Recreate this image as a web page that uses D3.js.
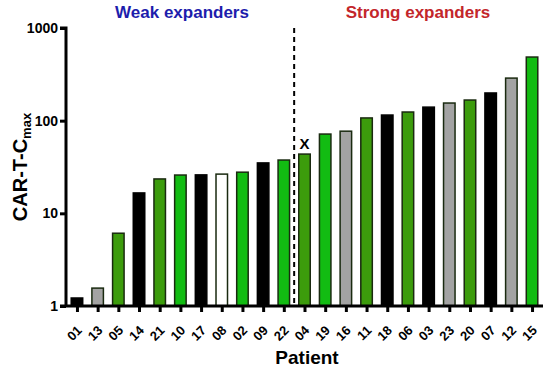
<!DOCTYPE html>
<html>
<head>
<meta charset="utf-8">
<script src="https://cdn.jsdelivr.net/npm/d3@7"></script>
<style>
  body { margin: 0; background: #fff; }
  text { font-family: Arial, "Liberation Sans", sans-serif; font-weight: bold; }
</style>
</head>
<body>
<div id="chart"></div>
<script>
// patients in plotted order
const patients = ["01","13","05","14","21","10","17","08","02","09","22",
                  "04","19","16","11","18","06","03","23","20","07","12","15"];
// CAR-T Cmax values
const cmax = [1.22, 1.56, 6.1, 16.6, 23.5, 25.9, 26, 26.5, 27.8, 35, 37.6,
              43.6, 71.7, 77, 107, 115, 124, 140, 155, 167, 199, 288, 486];
// fill category for each bar
const groups = ["black","gray","olive","black","olive","green","black","white","green","black","green",
                "olive","green","gray","olive","black","olive","black","gray","olive","black","gray","green"];
const yTicks = [1, 10, 100, 1000];
const weakCount = 11;     // first 11 patients are weak expanders
const markedPatient = "04";

const fills = { black: "#000", gray: "#a3a3a3", olive: "#3c9c0c", green: "#12bc12", white: "#fff" };

const width = 550, height = 373;
const mLeft = 66, mRight = 543, mTop = 28, mBottom = 306;

const svg = d3.select("#chart").append("svg")
  .attr("width", width).attr("height", height);

const x = d3.scalePoint().domain(patients).range([mLeft, mRight]).padding(0.53);
const y = d3.scaleLog().domain([1, 1000]).range([mBottom, mTop]);
const barW = 13;

// bars
svg.append("g")
  .selectAll("rect")
  .data(patients)
  .join("rect")
    .attr("x", d => x(d) - barW / 2 + 0.75)
    .attr("width", barW - 1.5)
    .attr("y", (d, i) => y(cmax[i]))
    .attr("height", (d, i) => mBottom - y(cmax[i]))
    .attr("fill", (d, i) => fills[groups[i]])
    .attr("stroke", (d, i) => groups[i] === "black" ? "#000" : "#1a2a10")
    .attr("stroke-width", 1.5);

// divider between weak and strong
const divX = (x(patients[weakCount - 1]) + x(patients[weakCount])) / 2;
svg.append("line")
  .attr("x1", divX).attr("x2", divX)
  .attr("y1", mTop).attr("y2", mBottom)
  .attr("stroke", "#000").attr("stroke-width", 2)
  .attr("stroke-dasharray", "5,4");

// X marker
const mi = patients.indexOf(markedPatient);
svg.append("text")
  .attr("x", x(markedPatient)).attr("y", y(cmax[mi]) - 5)
  .attr("text-anchor", "middle").attr("font-size", 15)
  .text("X");

// y axis
const yAxis = svg.append("g")
  .attr("transform", `translate(${mLeft},0)`)
  .call(d3.axisLeft(y).tickValues(yTicks).tickFormat(d3.format("d")).tickSize(6).tickPadding(2));
yAxis.select(".domain").attr("stroke-width", 3).attr("d", `M-6,${mTop}H0V${mBottom}`);
yAxis.selectAll(".tick line").attr("stroke-width", 3);
yAxis.selectAll(".tick text").attr("font-size", 14).attr("fill", "#000");

// x axis
const xAxis = svg.append("g")
  .attr("transform", `translate(0,${mBottom})`)
  .call(d3.axisBottom(x).tickSize(6).tickPadding(4));
xAxis.select(".domain").attr("stroke-width", 3).attr("d", `M${mLeft - 6},0H${mRight}`);
xAxis.selectAll(".tick line").attr("stroke-width", 3);
xAxis.selectAll(".tick text")
  .attr("font-size", 13).attr("fill", "#000")
  .attr("x", 0).attr("y", 0)
  .attr("text-anchor", "end")
  .attr("dy", "0.35em")
  .attr("transform", "translate(2,22) rotate(-45)");

// headers
svg.append("text").attr("x", 182).attr("y", 18).attr("text-anchor", "middle")
  .attr("font-size", 17).attr("fill", "#1d1dac").text("Weak expanders");
svg.append("text").attr("x", 418).attr("y", 18).attr("text-anchor", "middle")
  .attr("font-size", 17).attr("fill", "#c3262b").text("Strong expanders");

// axis titles
const yl = svg.append("text")
  .attr("transform", "translate(27,167) rotate(-90)")
  .attr("text-anchor", "middle").attr("font-size", 20).attr("fill", "#000");
yl.append("tspan").text("CAR-T-C");
yl.append("tspan").attr("font-size", 13).attr("dy", 4).text("max");

svg.append("text").attr("x", 307).attr("y", 364).attr("text-anchor", "middle")
  .attr("font-size", 19).attr("fill", "#000").text("Patient");
</script>
</body>
</html>
